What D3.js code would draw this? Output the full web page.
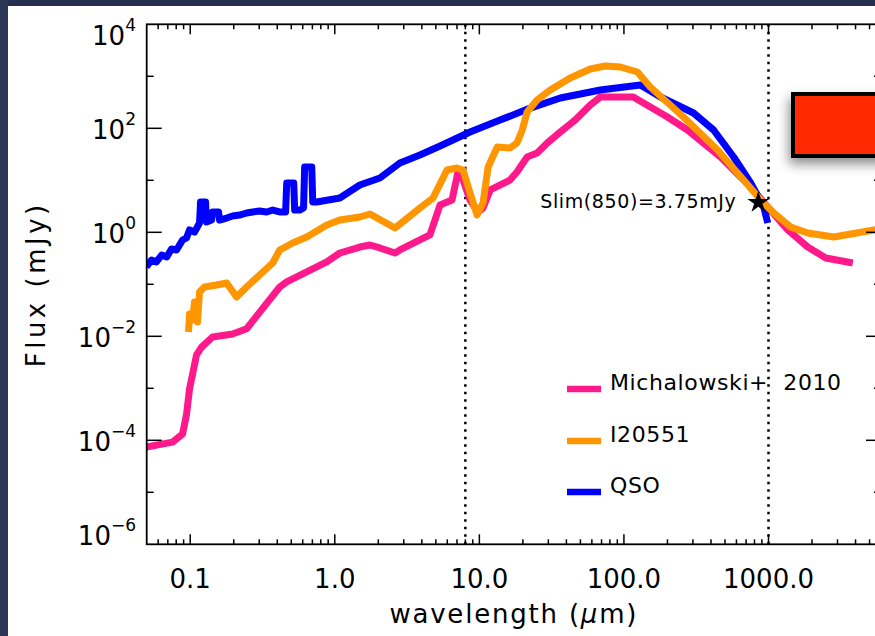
<!DOCTYPE html>
<html>
<head>
<meta charset="utf-8">
<script src="https://cdn.jsdelivr.net/npm/d3@7"></script>
<style>
html, body { margin: 0; padding: 0; background: #fff; overflow: hidden; }
svg { display: block; }
text { font-family: "DejaVu Sans", sans-serif; fill: #000; }
</style>
</head>
<body>
<div id="chart"></div>
<script>
'use strict';

// wavelength in micron, flux in mJy

const michWave = [0.0497, 0.0754, 0.0885, 0.0942, 0.0989, 0.1106, 0.1198, 0.1427, 0.1964, 0.2456,
	0.416, 0.465, 0.88, 1.083, 1.49, 1.75, 2.05, 2.61, 2.82, 4.55, 5.35, 6.47, 7.11, 7.58, 8.62,
	9.8, 10.6, 11.9, 16.3, 18.2, 21.4, 25.1, 29.5, 36.3, 46.0, 58.5, 68.7, 116, 200, 275, 466,
	753, 988, 1359, 1868, 2489, 3830];
const michFlux = [7.4e-5, 9.2e-5, 1.32e-4, 3.1e-4, 9.7e-4, 4.4e-3, 6.2e-3, 9.7e-3, 0.0111, 0.0140,
	0.0887, 0.111, 0.269, 0.40, 0.521, 0.57, 0.50, 0.40, 0.457, 0.888, 3.35, 4.18, 14.4, 11.6, 4.18,
	2.46, 2.93, 6.51, 10.1, 14.4, 28.1, 33.5, 52.1, 84.9, 144, 281, 400, 400, 165, 92.7, 28.1,
	7.43, 3.07, 1.11, 0.521, 0.321, 0.257];

const i20551Wave = [0.0973, 0.0989, 0.1037, 0.1071, 0.1123, 0.116, 0.1256, 0.152, 0.1786, 0.2094,
	0.2456, 0.302, 0.372, 0.416, 0.511, 0.640, 0.880, 1.083, 1.49, 1.75, 2.61, 3.88, 4.78, 5.97,
	7.00, 7.71, 8.62, 9.64, 10.6, 11.5, 13.3, 16.3, 18.2, 19.8, 21.4, 25.1, 30.9, 42.5, 58.5,
	74.3, 94.5, 124, 152, 258, 444, 673, 884, 1088, 1426, 1868, 2831, 5353, 5990];
const i20551Flux = [0.0121, 0.0268, 0.0206, 0.0457, 0.0188, 0.0711, 0.0887, 0.097, 0.106, 0.057,
	0.0887, 0.151, 0.257, 0.457, 0.622, 0.812, 1.38, 1.72, 1.97, 2.25, 1.21, 2.93, 4.57, 15.8,
	17.2, 15.8, 5.70, 2.15, 3.66, 18.0, 43.7, 41.8, 52.1, 92.7, 206, 350, 545, 928, 1381,
	1578, 1510, 1210, 623, 165, 38.3, 10.1, 4.18, 2.35, 1.26, 0.97, 0.812, 1.11, 1.16];

const qsoWave = [0.0497, 0.0539, 0.0584, 0.0635, 0.0688, 0.0742, 0.0804, 0.0885, 0.0942, 0.0989,
	0.1071, 0.116, 0.1179, 0.1276, 0.1297, 0.1405, 0.1427, 0.1571, 0.1596, 0.1786, 0.1964, 0.2197,
	0.2456, 0.2703, 0.302, 0.338, 0.372, 0.416, 0.457, 0.465, 0.520, 0.528, 0.572, 0.608, 0.619,
	0.693, 0.704, 0.750, 1.083, 1.49, 2.05, 2.82, 3.88, 5.35, 8.62, 13.9, 22.5, 36.3, 68.7,
	130, 179, 303, 417, 574, 753, 927, 988];
const qsoFlux = [0.215, 0.293, 0.269, 0.366, 0.335, 0.477, 0.457, 0.711, 0.777, 1.11,
	1.01, 1.51, 3.83, 3.83, 1.58, 1.72, 2.46, 2.46, 1.72, 1.88, 2.06, 2.15,
	2.35, 2.46, 2.57, 2.46, 2.68, 2.46, 2.46, 8.87, 8.87, 2.68, 2.68, 2.93, 18.0,
	18.0, 3.83, 3.83, 4.57, 8.12, 11.1, 21.5, 30.7, 45.7, 84.9, 144, 245, 383, 545,
	680, 400, 197, 92.7, 28.1, 8.87, 3.07, 1.51];

const seriesNames  = ["Michalowski+  2010", "I20551", "QSO"];
const seriesColors = ["#ff1a8c", "#ff9600", "#0000ff"];

const xTickVals   = [0.1, 1, 10, 100, 1000];
const xTickLabels = ["0.1", "1.0", "10.0", "100.0", "1000.0"];
const yTickExps   = [4, 2, 0, -2, -4, -6];

const markWave  = [8, 1000];          // dotted lines
const slimWave  = 850;
const slimFlux  = 3.75;
const slimLabel = "Slim(850)=3.75mJy";


const drawChart = () =>
{
	const W = 875, H = 636;
	const left = 146.7, right = 881, top = 24.3, bottom = 544.3;

	const x = d3.scaleLog().domain([0.05, 6000]).range([left, right]);
	const y = d3.scaleLog().domain([1e-6, 1e4]).range([bottom, top]);

	const svg = d3.select("#chart")
		.append("svg")
		.attr("width", W)
		.attr("height", H);

	const defs = svg.append("defs");
	defs.append("clipPath").attr("id", "plotclip")
		.append("rect")
		.attr("x", left).attr("y", top)
		.attr("width", right - left).attr("height", bottom - top);
	defs.append("filter").attr("id", "shadow")
		.attr("x", "-50%").attr("y", "-50%").attr("width", "200%").attr("height", "200%")
		.append("feDropShadow")
		.attr("dx", -2).attr("dy", 6).attr("stdDeviation", 6)
		.attr("flood-color", "#000").attr("flood-opacity", 0.45);

	// slide frame
	svg.append("rect").attr("x", 0).attr("y", 0).attr("width", W).attr("height", 6).attr("fill", "#272f50");
	svg.append("rect").attr("x", 0).attr("y", 0).attr("width", 8).attr("height", H).attr("fill", "#2b3556");

	// dotted markers
	svg.selectAll(".mark")
		.data(markWave)
		.enter()
			.append("line")
			.attr("x1", d => x(d)).attr("x2", d => x(d))
			.attr("y1", top).attr("y2", bottom)
			.attr("stroke", "#000")
			.attr("stroke-width", 2.5)
			.attr("stroke-dasharray", "2.5,5");

	// curves
	const line = d3.line()
		.x(d => x(d[0]))
		.y(d => y(d[1]));

	const series = [
		{ wave: michWave, flux: michFlux, color: seriesColors[0] },
		{ wave: qsoWave, flux: qsoFlux, color: seriesColors[2] },
		{ wave: i20551Wave, flux: i20551Flux, color: seriesColors[1] }
	];

	const g = svg.append("g").attr("clip-path", "url(#plotclip)");
	series.forEach(s =>
	{
		g.append("path")
			.datum(s.wave.map((w, i) => [w, s.flux[i]]))
			.attr("d", line)
			.attr("fill", "none")
			.attr("stroke", s.color)
			.attr("stroke-width", 7)
			.attr("stroke-linejoin", "round");
	});

	// axes box
	svg.append("rect")
		.attr("x", left).attr("y", top)
		.attr("width", right - left).attr("height", bottom - top)
		.attr("fill", "none")
		.attr("stroke", "#000")
		.attr("stroke-width", 1.8);

	// x ticks (bottom and top)
	const xTicks = [];
	for (let e = -2; e <= 3; e++)
		for (let m = 1; m <= 9; m++)
		{
			const v = m * Math.pow(10, e);
			if (v > 0.05 && v < 6000) xTicks.push({ v: v, major: m === 1 });
		}

	svg.selectAll(".xtb")
		.data(xTicks)
		.enter()
			.append("line")
			.attr("x1", d => x(d.v)).attr("x2", d => x(d.v))
			.attr("y1", bottom).attr("y2", d => bottom - (d.major ? 10 : 5))
			.attr("stroke", "#000").attr("stroke-width", 1.5);

	svg.selectAll(".xtt")
		.data(xTicks)
		.enter()
			.append("line")
			.attr("x1", d => x(d.v)).attr("x2", d => x(d.v))
			.attr("y1", top).attr("y2", d => top + (d.major ? 10 : 5))
			.attr("stroke", "#000").attr("stroke-width", 1.5);

	// y ticks (left and right)
	const yTicks = d3.range(-5, 4).map(e => ({ v: Math.pow(10, e), major: e % 2 === 0 }));

	svg.selectAll(".ytl")
		.data(yTicks)
		.enter()
			.append("line")
			.attr("x1", left).attr("x2", d => left + (d.major ? 15 : 7))
			.attr("y1", d => y(d.v)).attr("y2", d => y(d.v))
			.attr("stroke", "#000").attr("stroke-width", 1.5);

	svg.selectAll(".ytr")
		.data(yTicks)
		.enter()
			.append("line")
			.attr("x1", right).attr("x2", d => right - (d.major ? 15 : 7))
			.attr("y1", d => y(d.v)).attr("y2", d => y(d.v))
			.attr("stroke", "#000").attr("stroke-width", 1.5);

	// tick labels
	svg.selectAll(".xlab")
		.data(xTickVals)
		.enter()
			.append("text")
			.attr("x", d => x(d))
			.attr("y", 588)
			.attr("text-anchor", "middle")
			.style("font-size", "26px")
			.text((d, i) => xTickLabels[i]);

	const ylab = svg.selectAll(".ylab")
		.data(yTickExps)
		.enter()
			.append("text")
			.attr("x", 136)
			.attr("y", d => Math.max(45, Math.min(545, y(Math.pow(10, d)) + 11)))
			.attr("text-anchor", "end")
			.style("font-size", "26px");
	ylab.append("tspan").text("10");
	ylab.append("tspan")
		.attr("dy", -14)
		.style("font-size", "17px")
		.text(d => d < 0 ? "\u2212" + (-d) : String(d));

	// axis titles
	const xt = svg.append("text")
		.attr("x", (left + right) / 2)
		.attr("y", 623)
		.attr("text-anchor", "middle")
		.style("font-size", "26px")
		.style("letter-spacing", "1.8px");
	xt.append("tspan").text("wavelength (");
	xt.append("tspan").style("font-style", "italic").text("\u03bc");
	xt.append("tspan").text("m)");

	svg.append("text")
		.attr("transform", "translate(45," + ((top + bottom) / 2) + ") rotate(-90)")
		.attr("text-anchor", "middle")
		.style("font-size", "26px")
		.style("letter-spacing", "3.5px")
		.text("Flux (mJy)");

	// sensitivity limit
	svg.append("path")
		.attr("d", d3.symbol(d3.symbolStar).size(150))
		.attr("transform", "translate(" + x(slimWave) + "," + y(slimFlux) + ")")
		.attr("fill", "#000");

	svg.append("text")
		.attr("x", x(slimWave) - 22)
		.attr("y", 208)
		.attr("text-anchor", "end")
		.style("font-size", "19px")
		.style("letter-spacing", "0.6px")
		.text(slimLabel);

	// legend
	const legY = [389, 441, 492];
	const legOrder = [0, 1, 2];
	legOrder.forEach((k, i) =>
	{
		svg.append("line")
			.attr("x1", 567).attr("x2", 601)
			.attr("y1", legY[i]).attr("y2", legY[i])
			.attr("stroke", seriesColors[k])
			.attr("stroke-width", 6.5);
		svg.append("text")
			.attr("x", 610)
			.attr("y", legY[i] + 1)
			.style("font-size", "22px")
			.style("letter-spacing", "0.6px")
			.style("white-space", "pre")
			.text(seriesNames[k]);
	});

	// red box overlay from the slide
	svg.append("rect")
		.attr("x", 793).attr("y", 94)
		.attr("width", 120).attr("height", 62)
		.attr("fill", "#ff2a00")
		.attr("stroke", "#000")
		.attr("stroke-width", 4)
		.attr("filter", "url(#shadow)");
};


document.addEventListener("DOMContentLoaded", () =>
{
	drawChart();
}, false);
</script>
</body>
</html>
